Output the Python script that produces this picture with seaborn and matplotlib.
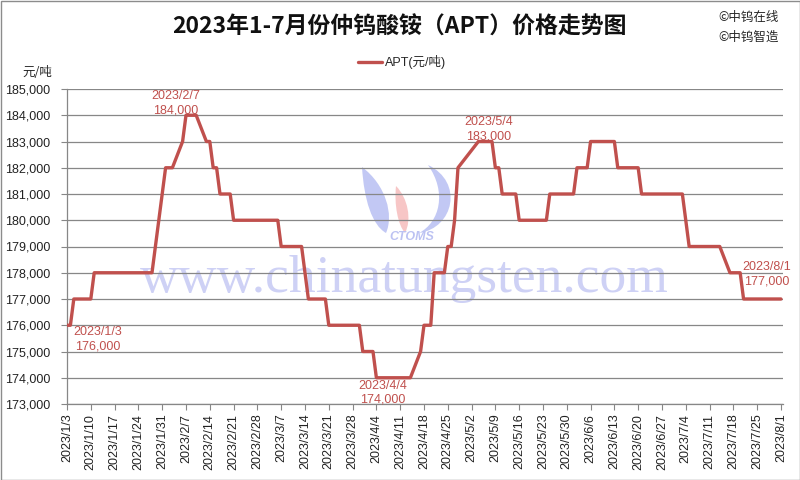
import matplotlib
matplotlib.use('Agg')
import matplotlib.pyplot as plt
import matplotlib.dates as mdates
from matplotlib.patches import Rectangle, PathPatch
from matplotlib.path import Path
from matplotlib.transforms import Affine2D
from matplotlib.ticker import FuncFormatter
import seaborn as sns
import pandas as pd
import numpy as np

# ---------------- data ----------------
dates = ["2023/1/3", "2023/1/4", "2023/1/5", "2023/1/10", "2023/1/11", "2023/1/20",
         "2023/1/28", "2023/1/29", "2023/1/30", "2023/1/31", "2023/2/1", "2023/2/3",
         "2023/2/6", "2023/2/7", "2023/2/10", "2023/2/13", "2023/2/14", "2023/2/15",
         "2023/2/16", "2023/2/17", "2023/2/20", "2023/2/21", "2023/3/6", "2023/3/7",
         "2023/3/13", "2023/3/14", "2023/3/15", "2023/3/20", "2023/3/21", "2023/3/30",
         "2023/3/31", "2023/4/3", "2023/4/4", "2023/4/14", "2023/4/17", "2023/4/18",
         "2023/4/20", "2023/4/21", "2023/4/24", "2023/4/25", "2023/4/26", "2023/4/27",
         "2023/4/28", "2023/5/4", "2023/5/8", "2023/5/9", "2023/5/10", "2023/5/11",
         "2023/5/15", "2023/5/16", "2023/5/24", "2023/5/25", "2023/6/1", "2023/6/2",
         "2023/6/5", "2023/6/6", "2023/6/13", "2023/6/14", "2023/6/20", "2023/6/21",
         "2023/7/3", "2023/7/4", "2023/7/5", "2023/7/14", "2023/7/17", "2023/7/20",
         "2023/7/21", "2023/8/1"]
prices = [176000, 176000, 177000, 177000, 178000, 178000,
          178000, 179000, 180000, 181000, 182000, 182000,
          183000, 184000, 184000, 183000, 183000, 182000,
          182000, 181000, 181000, 180000, 180000, 179000,
          179000, 178000, 177000, 177000, 176000, 176000,
          175000, 175000, 174000, 174000, 175000, 176000,
          176000, 178000, 178000, 179000, 179000, 180000,
          182000, 183000, 183000, 182000, 182000, 181000,
          181000, 180000, 180000, 181000, 181000, 182000,
          182000, 183000, 183000, 182000, 182000, 181000,
          181000, 180000, 179000, 179000, 178000, 178000,
          177000, 177000]

tick_labels = ["2023/1/3", "2023/1/10", "2023/1/17", "2023/1/24", "2023/1/31", "2023/2/7",
               "2023/2/14", "2023/2/21", "2023/2/28", "2023/3/7", "2023/3/14", "2023/3/21",
               "2023/3/28", "2023/4/4", "2023/4/11", "2023/4/18", "2023/4/25", "2023/5/2",
               "2023/5/9", "2023/5/16", "2023/5/23", "2023/5/30", "2023/6/6", "2023/6/13",
               "2023/6/20", "2023/6/27", "2023/7/4", "2023/7/11", "2023/7/18", "2023/7/25",
               "2023/8/1"]
y_ticks = [173000, 174000, 175000, 176000, 177000, 178000, 179000,
           180000, 181000, 182000, 183000, 184000, 185000]

ann_dates = ["2023/1/3", "2023/2/7", "2023/4/4", "2023/5/4", "2023/8/1"]
ann_values = [176000, 184000, 174000, 183000, 177000]
ann_offsets = [(31, -14), (-10, 12), (6, -15), (10, 12), (-14, 25)]  # pixels

title = "2023年1-7月份仲钨酸铵（APT）价格走势图"
series_name = "APT(元/吨)"

# ---------------- style ----------------
sns.set_theme(style='white')
plt.rcParams['font.family'] = ['Liberation Sans', 'Noto Sans CJK SC', 'DejaVu Sans']
CJK = ['Noto Sans CJK SC', 'DejaVu Sans']
RED = '#C0504D'
GRID = '#878787'

fig = plt.figure(figsize=(8, 4.8), dpi=100)
fig.patch.set_facecolor('white')
ax = fig.add_axes([67 / 800, 1 - 404 / 480, (783 - 67) / 800, (404 - 89) / 480])
ax.set_facecolor('white')

df = pd.DataFrame({'date': [pd.Timestamp(d) for d in dates], 'price': prices})
sns.lineplot(data=df, x='date', y='price', ax=ax, color=RED, lw=2.4,
             label=series_name, legend=False, zorder=5)

# limits / ticks
tick_pos = [pd.Timestamp(t) for t in tick_labels]
x0 = mdates.date2num(tick_pos[0])
x1 = mdates.date2num(tick_pos[-1])
ax.set_xlim(x0, x1 + 0.6)
ax.set_ylim(y_ticks[0], y_ticks[-1])
ax.set_xticks([mdates.date2num(t) for t in tick_pos])
ax.set_xticklabels(tick_labels, rotation=90, fontsize=9, color='#222222')
ax.set_yticks(y_ticks)
ax.yaxis.set_major_formatter(FuncFormatter(lambda v, p: f"{v:,.0f}"))
ax.tick_params(axis='y', left=True, direction='out', length=4, width=0.8,
               color=GRID, labelsize=9, labelcolor='#222222', pad=8)
ax.tick_params(axis='x', bottom=True, direction='out', length=4, width=0.8,
               color=GRID, labelsize=9, labelcolor='#222222', pad=3)
ax.set_xlabel('')
ax.set_ylabel('')
ax.set_axisbelow(True)
ax.yaxis.grid(True, color=GRID, lw=0.9)
ax.xaxis.grid(False)
for s in ['top', 'right']:
    ax.spines[s].set_visible(False)
for s in ['left', 'bottom']:
    ax.spines[s].set_color(GRID)
    ax.spines[s].set_linewidth(0.9)

# annotations
for d, v, (dx, dy) in zip(ann_dates, ann_values, ann_offsets):
    ax.annotate(f"{d}\n{v:,}", xy=(mdates.date2num(pd.Timestamp(d)), v),
                xytext=(dx, dy), textcoords='offset pixels', ha='center', va='center',
                multialignment='center', fontsize=9, color=RED, linespacing=1.25,
                zorder=6, annotation_clip=False)

# watermark (behind grid)
px = Affine2D().scale(1 / 800, -1 / 480).translate(0, 1) + fig.transFigure
ax.text(404, 292, "www.chinatungsten.com", transform=px, ha='center', va='baseline',
        fontsize=38.5, family=['Liberation Serif'], color='#c2c6f3', alpha=0.8, zorder=0.2)
C4 = Path.CURVE4
left_sw = Path([(362, 167), (364, 200), (372, 225), (386, 233), (394, 215), (386, 185), (362, 167)],
               [Path.MOVETO, C4, C4, C4, C4, C4, C4])
pink_sw = Path([(396, 186), (394, 205), (398, 225), (405, 233), (412, 220), (408, 198), (396, 186)],
               [Path.MOVETO, C4, C4, C4, C4, C4, C4])
right_sw = Path([(428, 165), (464, 182), (454, 228), (419, 233), (440, 222), (447, 192), (428, 165)],
                [Path.MOVETO, C4, C4, C4, C4, C4, C4])
for pth, col in [(left_sw, '#b3bbf2'), (pink_sw, '#f6b8b8'), (right_sw, '#b3bbf2')]:
    ax.add_patch(PathPatch(pth, transform=px, facecolor=col, edgecolor='none',
                           alpha=0.8, zorder=0.2, clip_on=False))
ax.text(412, 237, "CTOMS", transform=px, ha='center', va='center', fontsize=9,
        fontstyle='italic', fontweight='bold', color='#bcc2f2', zorder=0.2)

# legend
fig.legend(loc='center', bbox_to_anchor=(402 / 800, 1 - 62 / 480), frameon=False,
           fontsize=9, handlelength=1.9, handletextpad=0.2)

# titles and texts
fig.text(399 / 800, 1 - 27 / 480, title, ha='center', va='center', fontsize=16.5,
         fontweight='bold', family=CJK, color='#111111')
fig.text(37 / 800, 1 - 73 / 480, "元/吨", ha='center', va='center', fontsize=9, family=CJK)
fig.text(718 / 800, 1 - 17 / 480, "©中钨在线", ha='left', va='center', fontsize=9, family=CJK)
fig.text(718 / 800, 1 - 37 / 480, "©中钨智造", ha='left', va='center', fontsize=9, family=CJK)

# figure border
fig.add_artist(Rectangle((0.5 / 800, 0.5 / 480), 799 / 800, 479 / 480, transform=fig.transFigure,
                         fill=False, edgecolor='#8c8c8c', lw=1))

fig.savefig('out.png', dpi=100)
